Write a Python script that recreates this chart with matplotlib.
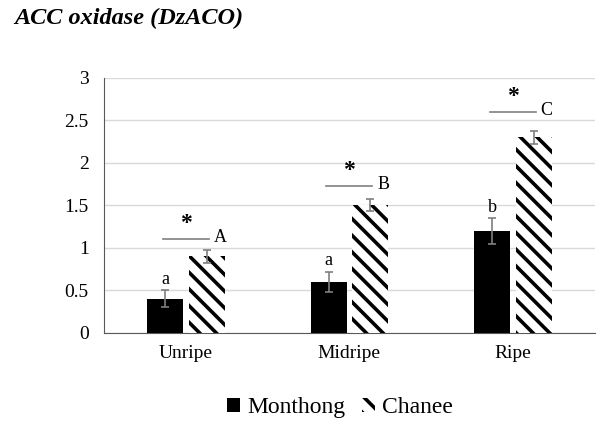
import numpy as np
import matplotlib
matplotlib.use("Agg")
import matplotlib.pyplot as plt

# chart values
stages = ["Unripe", "Midripe", "Ripe"]
monthong = [0.4, 0.6, 1.2]
monthong_err = [0.1, 0.12, 0.15]
chanee = [0.9, 1.5, 2.3]
chanee_err = [0.08, 0.07, 0.08]
monthong_letters = ["a", "a", "b"]
chanee_letters = ["A", "B", "C"]
sig_line = [1.1, 1.73, 2.6]
y_ticks = [0, 0.5, 1, 1.5, 2, 2.5, 3]

plt.rcParams['font.family'] = ['Liberation Serif', 'DejaVu Serif']
plt.rcParams['hatch.linewidth'] = 2.6

fig = plt.figure(figsize=(6.05, 4.28), dpi=100)
ax = fig.add_axes([0.172, 0.222, 0.811, 0.596])

x = np.arange(len(stages))
w = 0.22
gap = 0.035
xm = x - w / 2 - gap / 2
xc = x + w / 2 + gap / 2

ax.bar(xm, monthong, w, color="black", zorder=3, label="Monthong")
ax.bar(xc, chanee, w, color="white", edgecolor="black", linewidth=0,
       hatch="\\\\", zorder=3, label="Chanee")
ax.errorbar(xm, monthong, yerr=monthong_err, fmt="none", ecolor="#7f7f7f",
            elinewidth=1.2, capsize=3, capthick=1.2, zorder=4)
ax.errorbar(xc, chanee, yerr=chanee_err, fmt="none", ecolor="#7f7f7f",
            elinewidth=1.2, capsize=3, capthick=1.2, zorder=4)

for i in range(len(stages)):
    ax.text(xm[i], monthong[i] + monthong_err[i] + 0.03, monthong_letters[i],
            ha="center", va="bottom", fontsize=13)
    ax.plot([x[i] - 0.14, x[i] + 0.14], [sig_line[i]] * 2, color="#7f7f7f",
            lw=1.2, zorder=4)
    ax.text(x[i], sig_line[i] + 0.06, "*", ha="center", va="bottom",
            fontsize=17, fontweight="bold")
    ax.text(x[i] + 0.17, sig_line[i] + 0.02, chanee_letters[i], ha="left",
            va="center", fontsize=13)

ax.set_xlim(-0.5, 2.5)
ax.set_ylim(0, 3)
ax.set_yticks(y_ticks)
ax.set_yticklabels([f"{t:g}" for t in y_ticks])
ax.set_xticks(x)
ax.set_xticklabels(stages)
ax.tick_params(axis="both", length=0, labelsize=14)
ax.tick_params(axis="y", pad=11)
ax.tick_params(axis="x", pad=9)
ax.yaxis.grid(True, color="#d9d9d9", lw=1, zorder=0)
for s in ["top", "right"]:
    ax.spines[s].set_visible(False)
ax.spines["left"].set_color("#595959")
ax.spines["bottom"].set_color("#595959")

fig.text(0.023, 0.956, "ACC oxidase (DzACO)", fontsize=17.5,
         fontweight="bold", style="italic", va="center")

fig.legend(loc="center", bbox_to_anchor=(0.562, 0.047), ncol=2, frameon=False,
           fontsize=17, handlelength=0.55, handleheight=0.55, handletextpad=0.3,
           columnspacing=0.7)

fig.savefig("out.png", dpi=100)
